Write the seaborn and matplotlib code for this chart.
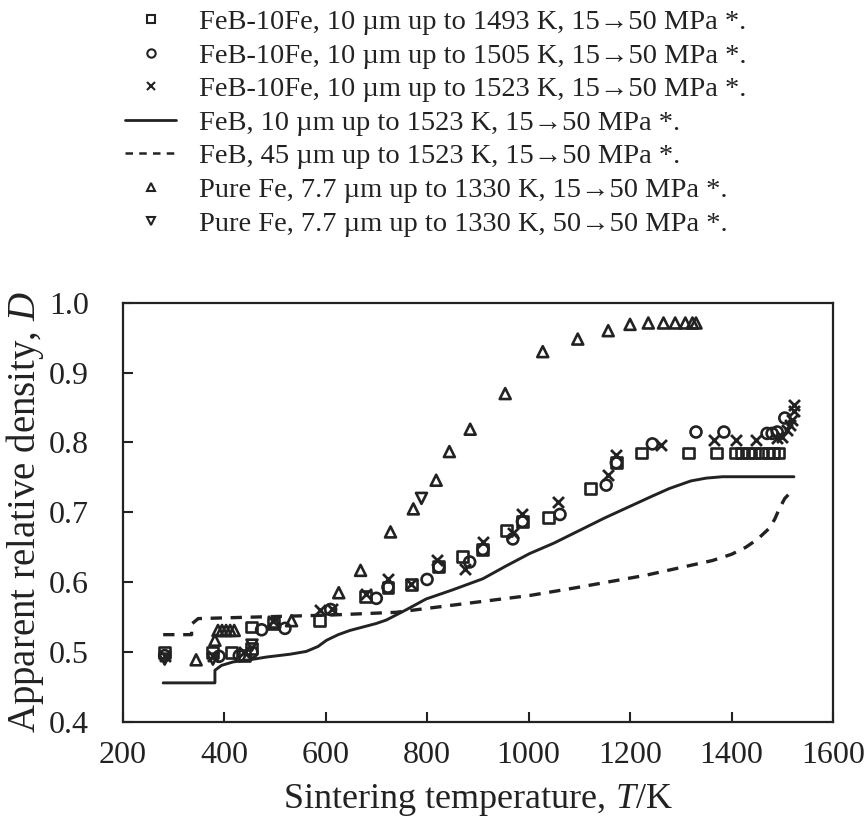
import numpy as np
import pandas as pd
import matplotlib
matplotlib.use("Agg")
import matplotlib.pyplot as plt
from matplotlib.lines import Line2D
import seaborn as sns

# ---------------- data ----------------
sq_T = [283, 378, 415, 440, 455, 455, 497, 589, 679, 723, 769, 823, 870, 910, 956, 988,
        1039, 1123, 1173, 1223, 1316, 1370, 1407, 1420, 1433, 1446, 1459, 1472, 1483, 1493]
sq_D = [0.500, 0.500, 0.500, 0.495, 0.536, 0.505, 0.541, 0.545, 0.579, 0.593, 0.597, 0.622,
        0.637, 0.647, 0.674, 0.687, 0.693, 0.734, 0.771, 0.785, 0.785, 0.785, 0.785, 0.785,
        0.785, 0.785, 0.785, 0.785, 0.785, 0.785]

ci_T = [283, 390, 430, 455, 474, 520, 610, 700, 723, 800, 823, 884, 910, 969, 988, 1062,
        1153, 1173, 1244, 1330, 1385, 1470, 1480, 1490, 1505]
ci_D = [0.495, 0.494, 0.495, 0.500, 0.532, 0.534, 0.561, 0.577, 0.593, 0.604, 0.622, 0.629,
        0.647, 0.662, 0.687, 0.697, 0.739, 0.771, 0.798, 0.815, 0.815, 0.813, 0.813, 0.815, 0.835]

x_T = [283, 378, 440, 497, 589, 612, 679, 723, 769, 819, 874, 910, 969, 988, 1059, 1156,
       1173, 1261, 1366, 1408, 1448, 1490, 1500, 1510, 1515, 1520, 1523, 1523]
x_D = [0.495, 0.495, 0.500, 0.545, 0.560, 0.562, 0.583, 0.605, 0.597, 0.632, 0.619, 0.658,
       0.670, 0.697, 0.715, 0.753, 0.782, 0.796, 0.803, 0.803, 0.803, 0.806, 0.808, 0.818,
       0.825, 0.832, 0.845, 0.853]

feb10_T = [280, 382, 382, 395, 418, 450, 484, 530, 562, 585, 602, 625, 648, 674, 700, 720,
           760, 798, 850, 910, 955, 1002, 1050, 1100, 1150, 1198, 1240, 1277, 1320, 1350,
           1382, 1523]
feb10_D = [0.456, 0.456, 0.474, 0.481, 0.486, 0.489, 0.493, 0.497, 0.501, 0.508, 0.517,
           0.525, 0.531, 0.536, 0.541, 0.546, 0.561, 0.576, 0.589, 0.605, 0.623, 0.641,
           0.656, 0.674, 0.692, 0.708, 0.722, 0.734, 0.745, 0.749, 0.751, 0.751]

feb45_T = [280, 336, 336, 349, 450, 608, 739, 870, 1002, 1092, 1231, 1362, 1400, 1428,
           1452, 1474, 1485, 1494, 1505, 1517, 1523]
feb45_D = [0.525, 0.525, 0.540, 0.548, 0.550, 0.553, 0.557, 0.569, 0.581, 0.592, 0.610,
           0.631, 0.640, 0.650, 0.662, 0.677, 0.690, 0.705, 0.720, 0.729, 0.732]

fe15_T = [345, 382, 388, 396, 404, 412, 420, 500, 533, 626, 669, 728, 773, 818, 844, 885,
          954, 1028, 1097, 1157, 1200, 1236, 1266, 1289, 1309, 1323, 1330]
fe15_D = [0.489, 0.517, 0.531, 0.531, 0.531, 0.531, 0.531, 0.543, 0.545, 0.585, 0.617,
          0.672, 0.705, 0.746, 0.787, 0.819, 0.870, 0.930, 0.948, 0.960, 0.969, 0.971,
          0.971, 0.971, 0.971, 0.971, 0.971]

fe50_T = [283, 378, 455, 789]
fe50_D = [0.490, 0.490, 0.510, 0.720]

labels = [
    "FeB-10Fe, 10 \u00b5m up to 1493 K, 15\u219250 MPa *.",
    "FeB-10Fe, 10 \u00b5m up to 1505 K, 15\u219250 MPa *.",
    "FeB-10Fe, 10 \u00b5m up to 1523 K, 15\u219250 MPa *.",
    "FeB, 10 \u00b5m up to 1523 K, 15\u219250 MPa *.",
    "FeB, 45 \u00b5m up to 1523 K, 15\u219250 MPa *.",
    "Pure Fe, 7.7 \u00b5m up to 1330 K, 15\u219250 MPa *.",
    "Pure Fe, 7.7 \u00b5m up to 1330 K, 50\u219250 MPa *.",
]
x_ticks = [200, 400, 600, 800, 1000, 1200, 1400, 1600]
y_ticks = [0.4, 0.5, 0.6, 0.7, 0.8, 0.9, 1.0]

# ---------------- style ----------------
sns.set_style("ticks")
plt.rcParams['font.family'] = ['Liberation Serif', 'DejaVu Serif']
plt.rcParams['mathtext.fontset'] = 'custom'
plt.rcParams['mathtext.rm'] = 'Liberation Serif'
plt.rcParams['mathtext.it'] = 'Liberation Serif:italic'

C = '#222222'
fig = plt.figure(figsize=(8.68, 8.26), dpi=100)
ax = fig.add_axes([0.1412, 0.1259, 0.8185, 0.5076])

ms = 62
def open_scatter(T, D, marker):
    df = pd.DataFrame({'T': T, 'D': D})
    sns.scatterplot(data=df, x='T', y='D', marker=marker, s=ms, facecolors='none',
                    edgecolors=C, linewidths=1.9, ax=ax, zorder=3)

open_scatter(sq_T, sq_D, 's')
open_scatter(ci_T, ci_D, 'o')
sns.scatterplot(data=pd.DataFrame({'T': x_T, 'D': x_D}), x='T', y='D', marker='x', s=ms,
                color=C, linewidth=2.0, ax=ax, zorder=3)
sns.lineplot(data=pd.DataFrame({'T': feb10_T, 'D': feb10_D}), x='T', y='D', color=C,
             lw=2.1, ax=ax, sort=False, estimator=None)
sns.lineplot(data=pd.DataFrame({'T': feb45_T, 'D': feb45_D}), x='T', y='D', color=C,
             lw=2.4, ax=ax, sort=False, estimator=None, linestyle=(0, (3.4, 2.6)))
open_scatter(fe15_T, fe15_D, '^')
open_scatter(fe50_T, fe50_D, 'v')

ax.set_xlim(200, 1600)
ax.set_ylim(0.4, 1.0)
ax.set_xticks(x_ticks)
ax.set_yticks(y_ticks)
ax.set_xticklabels([str(t) for t in x_ticks])
ax.set_yticklabels([f"{t:.1f}" for t in y_ticks])
ax.tick_params(direction='in', length=7, width=1.5, labelsize=23, colors=C)
ax.tick_params(axis='x', pad=14)
ax.tick_params(axis='y', pad=24)
for sp in ax.spines.values():
    sp.set_linewidth(1.6)
    sp.set_color(C)
ax.set_xlabel("Sintering temperature, $T$/K", fontsize=26, color=C, labelpad=8)
ax.set_ylabel("Apparent relative density, $D$", fontsize=28, color=C, labelpad=2)

# ---------------- legend ----------------
hs = 6
handles = [
    Line2D([], [], ls='none', marker='s', ms=hs, mfc='none', mec=C, mew=1.5),
    Line2D([], [], ls='none', marker='o', ms=hs, mfc='none', mec=C, mew=1.5),
    Line2D([], [], ls='none', marker='x', ms=hs, mec=C, mew=1.5),
    Line2D([], [], color=C, lw=2.0),
    Line2D([], [], color=C, lw=1.8, ls=(0, (3, 2.5))),
    Line2D([], [], ls='none', marker='^', ms=hs, mfc='none', mec=C, mew=1.5),
    Line2D([], [], ls='none', marker='v', ms=hs, mfc='none', mec=C, mew=1.5),
]
fig.legend(handles, labels, loc='upper left', bbox_to_anchor=(125 / 868, 1 - 9 / 826),
           frameon=False, fontsize=20.5, handlelength=1.8, handletextpad=0.8,
           labelspacing=0.27, borderpad=0, borderaxespad=0, labelcolor=C)

fig.savefig("out.png", dpi=100)
